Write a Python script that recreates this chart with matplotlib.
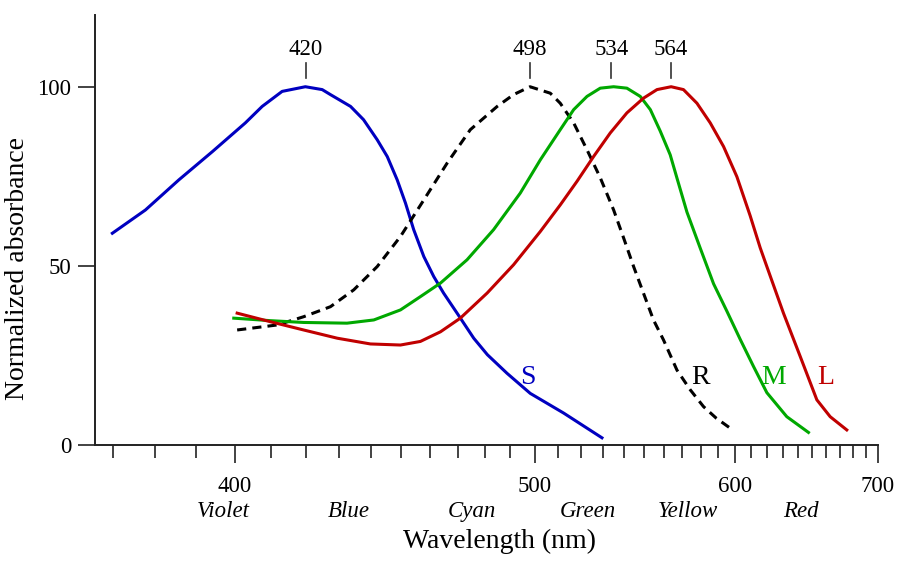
import matplotlib
matplotlib.use("Agg")
import matplotlib.pyplot as plt

plt.rcParams["font.family"] = ["Liberation Serif", "DejaVu Serif"]

# wavelength (nm) / normalized absorbance
s_nm = [369.9, 377.6, 385.7, 394.2, 402.9, 407.5, 413.1, 419.8, 424.8, 427.3, 433.5,
        437.6, 442.0, 445.3, 448.6, 451.4, 454.2, 457.7, 461.2, 464.7, 469.6, 475.8,
        481.0, 488.7, 498.1, 512.3, 529.6]
s_abs = [59.1, 65.6, 74.0, 81.9, 89.9, 94.5, 98.7, 100.0, 99.2, 97.8, 94.5,
         90.8, 85.2, 80.5, 74.0, 67.5, 60.1, 52.6, 47.0, 42.4, 36.8, 29.8,
         25.2, 20.0, 14.4, 8.9, 2.0]

r_nm = [400.7, 411.7, 419.3, 427.3, 434.5, 442.0, 449.7, 457.7, 466.0, 474.5, 484.8,
        491.3, 498.0, 506.5, 510.8, 516.7, 522.7, 528.8, 535.1, 539.9, 544.8, 549.7,
        554.8, 560.0, 567.1, 574.3, 581.7, 588.9, 597.1]
r_abs = [32.1, 33.5, 35.8, 38.6, 43.3, 49.8, 58.2, 68.4, 78.7, 88.0, 94.5,
         97.8, 100.0, 98.2, 95.4, 89.9, 82.4, 74.6, 65.6, 57.8, 49.8, 42.4,
         34.9, 29.3, 20.9, 15.4, 10.7, 7.5, 4.7]

m_nm = [399.8, 409.8, 419.3, 432.4, 440.9, 449.7, 456.5, 463.6, 473.3, 483.4, 494.0,
        502.3, 510.8, 516.7, 522.7, 528.8, 535.1, 541.5, 548.1, 553.2, 558.3, 563.5,
        567.1, 572.5, 579.8, 587.4, 595.2, 603.1, 611.3, 619.7, 632.7, 647.5]
m_abs = [35.4, 34.7, 34.2, 34.0, 34.9, 37.7, 41.4, 45.2, 51.7, 60.1, 70.3,
         79.6, 88.0, 93.6, 97.3, 99.6, 100.0, 99.6, 97.3, 93.6, 87.6, 81.0,
         74.5, 65.0, 55.0, 45.0, 37.3, 29.5, 21.9, 14.6, 7.9, 3.5]

l_nm = [400.7, 409.8, 419.3, 429.4, 439.8, 449.7, 456.5, 463.6, 470.8, 480.9, 491.3,
        502.3, 510.8, 518.2, 525.7, 533.5, 541.5, 549.7, 556.6, 564.0, 570.6, 578.0,
        585.5, 593.2, 601.1, 609.2, 615.5, 619.7, 630.5, 641.8, 653.4, 663.0, 675.4]
l_abs = [36.8, 34.4, 32.1, 29.8, 28.2, 27.9, 28.9, 31.6, 35.4, 42.4, 50.3,
         59.6, 67.0, 73.6, 80.5, 87.1, 92.7, 96.8, 99.2, 100.0, 99.2, 95.4,
         89.9, 83.3, 74.9, 64.0, 55.0, 49.8, 36.8, 24.7, 12.6, 7.9, 4.2]

peaks = [420, 498, 534, 564]
curve_names = ["S", "R", "M", "L"]
name_pos = [497, 580, 624, 660]

minor_ticks = list(range(370, 701, 10))
major_ticks = [400, 500, 600, 700]
colour_names = ["Violet", "Blue", "Cyan", "Green", "Yellow", "Red"]
colour_pos = [397, 433, 475, 523, 573, 642]

blue = "#0000c0"
green = "#00a800"
red = "#c00000"

fig = plt.figure(figsize=(9, 5.8), dpi=100)
ax = fig.add_axes([0.1056, 0.2328, 0.87, 0.7412])

# spectral plots use a reciprocal (wavenumber) x axis
ax.set_xscale("function", functions=(lambda x: -1.0 / x, lambda y: -1.0 / y))

ax.plot(s_nm, s_abs, color=blue, lw=2.2)
ax.plot(r_nm, r_abs, color="black", lw=2.2, linestyle=(0, (3, 2)))
ax.plot(m_nm, m_abs, color=green, lw=2.2)
ax.plot(l_nm, l_abs, color=red, lw=2.2)

for p in peaks:
    ax.plot([p, p], [102.5, 106.7], color="#333333", lw=1.2)
    ax.text(p, 110.3, str(p), ha="center", va="center", fontsize=16.5)

for name, x, c in zip(curve_names, name_pos, [blue, "black", green, red]):
    ax.text(x, 18.7, name, color=c, ha="center", va="center", fontsize=20)

ax.set_xlim(366, 700)
ax.set_ylim(0, 120)

ax.set_xticks(major_ticks)
ax.set_xticklabels([str(t) for t in major_ticks], fontsize=16.5)
ax.set_xticks(minor_ticks, minor=True)
ax.set_xticklabels([], minor=True)
ax.tick_params(axis="x", which="major", length=13, width=1.2, pad=9, color="#222222")
ax.tick_params(axis="x", which="minor", length=9, width=1.2, color="#222222")

ax.set_yticks([0, 50, 100])
ax.set_yticklabels(["0", "50", "100"], fontsize=16.5)
ax.tick_params(axis="y", length=12, width=1.2, pad=5, color="#222222")

for name, x in zip(colour_names, colour_pos):
    ax.text(x, -0.155, name, transform=ax.get_xaxis_transform(), ha="center",
            va="center", fontsize=16.5, style="italic")

ax.set_xlabel("Wavelength (nm)", fontsize=20)
ax.xaxis.set_label_coords(0.516, -0.195)
ax.set_ylabel("Normalized absorbance", fontsize=20)
ax.yaxis.set_label_coords(-0.083, 0.41)

for side in ["top", "right"]:
    ax.spines[side].set_visible(False)
for side in ["left", "bottom"]:
    ax.spines[side].set_linewidth(1.4)
    ax.spines[side].set_color("#222222")

fig.savefig("out.png", dpi=100)
